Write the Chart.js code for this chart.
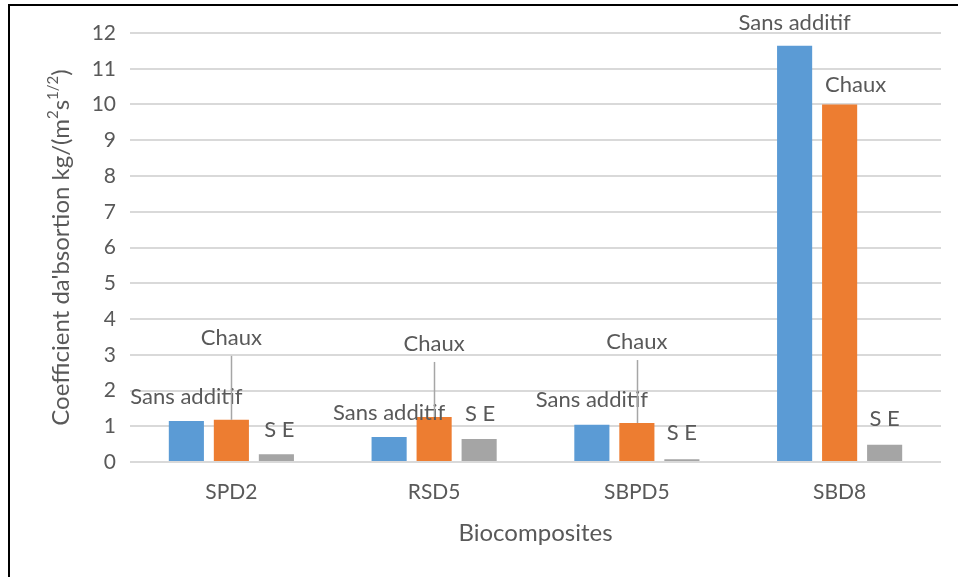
<!DOCTYPE html>
<html>
<head>
<meta charset="utf-8">
<script src="https://cdn.jsdelivr.net/npm/chart.js@4.4.1/dist/chart.umd.min.js"></script>
<style>
  html, body { margin: 0; padding: 0; background: #fff; }
  #wrap { width: 958px; height: 577px; }
</style>
</head>
<body>
<div id="wrap"><canvas id="absChart" width="958" height="577"></canvas></div>
<script>
// data
const categories = ['SPD2', 'RSD5', 'SBPD5', 'SBD8'];
const seriesNames = ['Sans additif', 'Chaux', 'S E'];
const sansAdditif = [1.15, 0.70, 1.04, 11.64];
const chaux = [1.18, 1.26, 1.09, 10.0];
const sansEnrobage = [0.22, 0.64, 0.08, 0.48];
const yMin = 0, yMax = 12, yStep = 1;

const colors = ['#5B9BD5', '#ED7D31', '#A5A5A5'];
const textColor = '#595959';
const font = 'Lato, "Open Sans", sans-serif';

// where each series-name label sits relative to the bar top (px), Excel moved some by hand
const labelPlacement = [
    [{dx: 0, dy: -24}, {dx: 0, dy: -24}, {dx: 0, dy: -25}, {dx: 0, dy: -23}],
    [{dx: 0, dy: -82, leader: true}, {dx: 0, dy: -73, leader: true}, {dx: 0, dy: -81, leader: true}, {dx: 16, dy: -20}],
    [{dx: 3, dy: -24}, {dx: 1, dy: -25}, {dx: 0, dy: -26}, {dx: 0, dy: -26}]
];

const seriesLabels = {
    id: 'seriesLabels',
    afterDatasetsDraw(chart) {
        const ctx = chart.ctx;
        ctx.save();
        ctx.font = '22px ' + font;
        ctx.textAlign = 'center';
        ctx.textBaseline = 'middle';
        chart.data.datasets.forEach((ds, di) => {
            chart.getDatasetMeta(di).data.forEach((bar, i) => {
                const p = labelPlacement[di][i];
                const lx = bar.x + p.dx, ly = bar.y + p.dy;
                if (p.leader) {
                    ctx.strokeStyle = '#A6A6A6';
                    ctx.lineWidth = 1.5;
                    ctx.beginPath();
                    ctx.moveTo(Math.round(bar.x) + 0.5, ly + 18);
                    ctx.lineTo(Math.round(bar.x) + 0.5, bar.y);
                    ctx.stroke();
                }
                ctx.fillStyle = textColor;
                ctx.fillText(ds.label, lx, ly);
            });
        });
        ctx.restore();
    }
};

// frame + axis titles (y title needs superscripts)
const decorations = {
    id: 'decorations',
    beforeDraw(chart) {
        const ctx = chart.ctx;
        ctx.save();
        ctx.fillStyle = '#fff';
        ctx.fillRect(0, 0, chart.width, chart.height);
        ctx.strokeStyle = '#000';
        ctx.lineWidth = 2;
        ctx.beginPath();
        ctx.moveTo(9, chart.height);
        ctx.lineTo(9, 5);
        ctx.lineTo(chart.width, 5);
        ctx.stroke();
        ctx.restore();
    },
    afterDraw(chart) {
        const ctx = chart.ctx;
        const area = chart.chartArea;
        ctx.save();
        ctx.fillStyle = textColor;
        ctx.textBaseline = 'middle';
        ctx.textAlign = 'center';
        ctx.font = '24px ' + font;
        ctx.fillText('Biocomposites', (area.left + area.right) / 2, 533);

        // rotated y title built from pieces
        const parts = [
            ['Coefficient da\'bsortion kg/(m', false],
            ['2', true],
            ['s', false],
            ['1/2', true],
            [')', false]
        ];
        const big = '24px ' + font, small = '15px ' + font;
        let total = 0;
        parts.forEach(([t, sup]) => { ctx.font = sup ? small : big; total += ctx.measureText(t).width; });
        ctx.translate(61, (area.top + area.bottom) / 2);
        ctx.rotate(-Math.PI / 2);
        ctx.textAlign = 'left';
        let x = -total / 2;
        parts.forEach(([t, sup]) => {
            ctx.font = sup ? small : big;
            ctx.fillText(t, x, sup ? -8 : 0);
            x += ctx.measureText(t).width;
        });
        ctx.restore();
    }
};

new Chart(document.getElementById('absChart'), {
    type: 'bar',
    data: {
        labels: categories,
        datasets: [
            {label: seriesNames[0], data: sansAdditif, backgroundColor: colors[0]},
            {label: seriesNames[1], data: chaux, backgroundColor: colors[1]},
            {label: seriesNames[2], data: sansEnrobage, backgroundColor: colors[2]}
        ]
    },
    options: {
        responsive: false,
        animation: false,
        devicePixelRatio: 1,
        categoryPercentage: 0.666,
        barPercentage: 0.78,
        layout: {padding: {left: 0, right: 17, top: 33, bottom: 0}},
        plugins: {
            legend: {display: false},
            tooltip: {enabled: false}
        },
        scales: {
            x: {
                grid: {display: false},
                border: {display: false},
                ticks: {color: textColor, font: {family: font, size: 21}, padding: 10},
                afterFit(scale) { scale.height = 115; }
            },
            y: {
                min: yMin,
                max: yMax,
                grid: {color: '#D9D9D9', lineWidth: 2, drawTicks: false},
                border: {display: false},
                ticks: {stepSize: yStep, color: textColor, font: {family: font, size: 21}, padding: 14},
                afterFit(scale) { scale.width = 130; }
            }
        }
    },
    plugins: [decorations, seriesLabels]
});
</script>
</body>
</html>
